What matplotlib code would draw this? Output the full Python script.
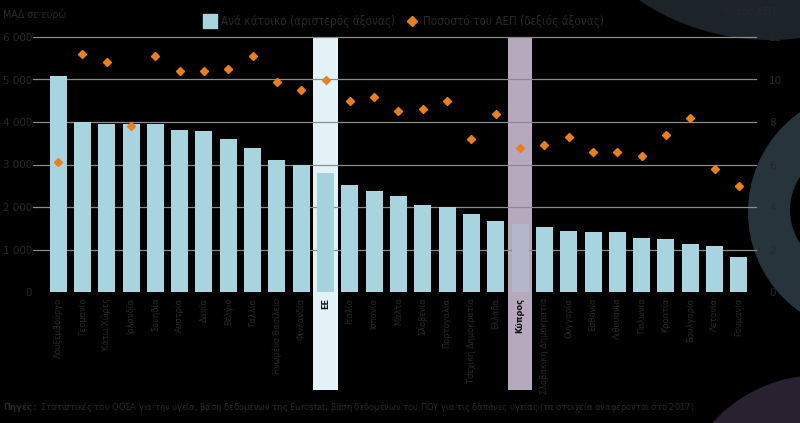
import matplotlib
matplotlib.use("Agg")
import matplotlib.pyplot as plt
from matplotlib.patches import Circle, Rectangle
from matplotlib.lines import Line2D
from matplotlib import font_manager
from matplotlib.font_manager import FontProperties

countries = ["Λουξεμβούργο", "Γερμανία", "Κάτω Χώρες", "Ιρλανδία", "Σουηδία", "Αυστρία",
             "Δανία", "Βέλγιο", "Γαλλία", "Ηνωμένο Βασίλειο", "Φινλανδία", "ΕΕ",
             "Ιταλία", "Ισπανία", "Μάλτα", "Σλοβενία", "Πορτογαλία", "Τσεχική Δημοκρατία",
             "Ελλάδα", "Κύπρος", "Σλοβακική Δημοκρατία", "Ουγγαρία", "Εσθονία", "Λιθουανία",
             "Πολωνία", "Κροατία", "Βουλγαρία", "Λετονία", "Ρουμανία"]
per_capita = [5080, 4000, 3950, 3950, 3950, 3810, 3790, 3600, 3390, 3110, 2990, 2800,
              2520, 2380, 2260, 2050, 2000, 1840, 1670, 1600, 1530, 1440, 1410, 1410,
              1270, 1250, 1130, 1080, 820]
pct_gdp = [6.1, 11.2, 10.8, 7.8, 11.1, 10.4, 10.4, 10.5, 11.1, 9.9, 9.5, 10.0,
           9.0, 9.2, 8.5, 8.6, 9.0, 7.2, 8.4, 6.8, 6.9, 7.3, 6.6, 6.6,
           6.4, 7.4, 8.2, 5.8, 5.0]
left_ticks = [0, 1000, 2000, 3000, 4000, 5000, 6000]
left_labels = ["0", "1 000", "2 000", "3 000", "4 000", "5 000", "6 000"]
right_ticks = [0, 2, 4, 6, 8, 10, 12]
legend_labels = ["Ανά κάτοικο (αριστερός άξονας)", "Ποσοστό του ΑΕΠ (δεξιός άξονας)"]

plt.rcParams["font.family"] = ["DejaVu Sans"]
cond_path = font_manager.findfont(FontProperties(family="DejaVu Sans", stretch="condensed"))
if "Condensed" in cond_path:
    plt.rcParams["font.stretch"] = "condensed"
    k = 1.1
else:
    k = 1.0

W, H = 800, 423
TXT = "#282828"
BAR = "#a8d4e0"
ORANGE = "#e8801f"

fig = plt.figure(figsize=(W / 100, H / 100), dpi=100, facecolor="black")

# decorative background
bg = fig.add_axes([0, 0, 1, 1], zorder=-5)
bg.set_xlim(0, W)
bg.set_ylim(H, 0)
bg.axis("off")
bg.set_facecolor("black")
bg.add_patch(Circle((770, -195), 235, color="#1c2429", lw=0))
bg.add_patch(Circle((870, 212), 122, color="#27343b", lw=0))
bg.add_patch(Circle((850, 210), 60, color="black", lw=0))
bg.add_patch(Circle((872, 210), 56, color="#27343b", lw=0))
bg.add_patch(Circle((820, 520), 145, color="#2a2130", lw=0))

ax = fig.add_axes([35 / W, 1 - 292 / H, 727 / W, 255 / H], zorder=1)
ax.patch.set_alpha(0)
n = len(countries)
x = list(range(n))
ax.set_xlim(-0.95, n - 0.05)
ax.set_ylim(0, 6000)

i_eu = countries.index("ΕΕ")
i_cy = countries.index("Κύπρος")
ylow = -2300
ax.add_patch(Rectangle((i_eu - 0.5, ylow), 1, 6000 - ylow, color="#e3f2f7", lw=0,
                       clip_on=False, zorder=0))
ax.add_patch(Rectangle((i_cy - 0.5, ylow), 1, 6000 - ylow, color="#b6a8bd", lw=0,
                       clip_on=False, zorder=0))

for t in left_ticks[1:]:
    ax.plot([-0.95 - 0.1, n - 0.3], [t, t], color="#8c8c8c", lw=0.9, zorder=1, clip_on=False)

colors = [BAR] * n
colors[i_eu] = "#a6d2de"
colors[i_cy] = "#b2b8c9"
ax.bar(x, per_capita, width=0.7, color=colors, zorder=2)

ax.set_yticks(left_ticks)
ax.set_yticklabels(left_labels, color=TXT, fontsize=7.5 * k)
ax.tick_params(axis="y", length=0, pad=2)
ax.set_xticks(x)
ax.set_xticklabels(countries, rotation=90, fontsize=6.0 * k, color=TXT, va="top", ha="center")
ax.tick_params(axis="x", length=0, pad=4)
for lbl, c in zip(ax.get_xticklabels(), countries):
    if c in ("ΕΕ", "Κύπρος"):
        lbl.set_color("#111111")
        lbl.set_fontweight("bold")
for s in ax.spines.values():
    s.set_visible(False)

ax2 = ax.twinx()
ax2.set_ylim(0, 12)
ax2.plot(x, pct_gdp, linestyle="none", marker="D", markersize=4.5, color=ORANGE, zorder=3)
ax2.set_yticks(right_ticks)
ax2.set_yticklabels([str(t) for t in right_ticks], color=TXT, fontsize=7.5 * k)
ax2.tick_params(axis="y", length=0, pad=5)
for s in ax2.spines.values():
    s.set_visible(False)

handles = [Line2D([], [], linestyle="none", marker="s", markersize=10, color=BAR),
           Line2D([], [], linestyle="none", marker="D", markersize=5.5, color=ORANGE)]
fig.legend(handles, legend_labels, loc="center", bbox_to_anchor=(0.505, 1 - 22 / H),
           ncol=2, frameon=False, fontsize=7.6 * k, labelcolor=TXT, handletextpad=0.4,
           columnspacing=1.0, handlelength=1.0)

fig.text(3 / W, 1 - 15 / H, "ΜΑΔ σε ευρώ", color=TXT, fontsize=7 * k, va="center", ha="left")
fig.text(750 / W, 1 - 12 / H, "% του ΑΕΠ", color=TXT, fontsize=7 * k, va="center", ha="center")
fig.text(3 / W, 1 - 407 / H,
         r"$\bf{Πηγές:}$ Στατιστικές του ΟΟΣΑ για την υγεία, βάση δεδομένων της Eurostat, "
         "βάση δεδομένων του ΠΟΥ για τις δαπάνες υγείας (τα στοιχεία αναφέρονται στο 2017).",
         color=TXT, fontsize=6.1 * k, va="center", ha="left")

fig.savefig("out.png", dpi=100, facecolor="black")
